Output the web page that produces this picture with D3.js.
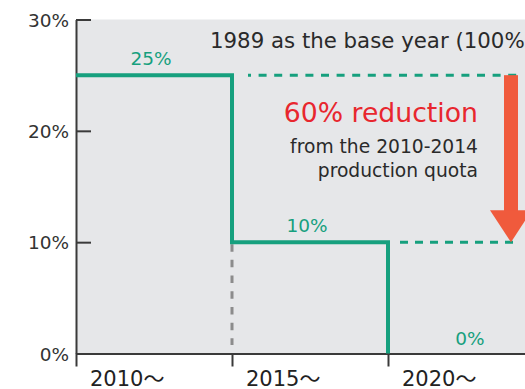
<!DOCTYPE html>
<html><head><meta charset="utf-8">
<script src="https://cdn.jsdelivr.net/npm/d3@7"></script>
<style>
html,body{margin:0;padding:0;background:#fff;overflow:hidden}
text{font-family:"DejaVu Sans","Noto Sans CJK JP",sans-serif}
</style></head>
<body><svg id="c" width="525" height="389"></svg>
<script>
const periods = ["2010〜","2015〜","2020〜"];
const startYears = [2010, 2015, 2020];
const quotaValues = [25, 10, 0];
const valueLabels = ["25%","10%","0%"];
const yTicks = [0, 10, 20, 30];
const baseNote = "1989 as the base year (100%)";
const reductionTitle = "60% reduction";
const reductionSub = ["from the 2010-2014", "production quota"];

const svg = d3.select("#c");
const x = d3.scaleLinear().domain([2010, 2025]).range([76, 544]);
const y = d3.scaleLinear().domain([0, 30]).range([353.5, 19.5]);
const green = "#16a07e", axisCol = "#3a3a3a";

svg.append("rect").attr("x", x(2010)).attr("y", y(30)).attr("width", x(2025)-x(2010)).attr("height", y(0)-y(30)).attr("fill", "#e6e7e9");

const ya = svg.append("g").attr("transform", `translate(${x(2010)},0)`)
  .call(d3.axisLeft(y).tickValues(yTicks).tickFormat(d => d + "%").tickSizeInner(-15).tickSizeOuter(0));
ya.select(".domain").attr("stroke", axisCol).attr("stroke-width", 2);
ya.selectAll(".tick line").attr("stroke", axisCol).attr("stroke-width", 2);
ya.selectAll(".tick text").attr("font-size", 18.5).attr("fill", "#333").attr("x", -7).attr("dy", "0.36em");

const xa = svg.append("g").attr("transform", `translate(0,${y(0)})`)
  .call(d3.axisBottom(x).tickValues(startYears).tickFormat("").tickSizeInner(13).tickSizeOuter(0));
xa.select(".domain").attr("stroke", axisCol).attr("stroke-width", 2);
xa.selectAll(".tick line").attr("stroke", axisCol).attr("stroke-width", 2);
svg.append("g").selectAll("text").data(periods).join("text")
  .attr("x", (d,i) => x(startYears[i]) + 14).attr("y", 386)
  .attr("font-size", 21).attr("fill", "#222").text(d => d);

svg.append("line").attr("x1", x(2015)).attr("x2", x(2015)).attr("y1", y(quotaValues[1]) + 2).attr("y2", 345)
  .attr("stroke", "#8c8c8c").attr("stroke-width", 3).attr("stroke-dasharray", "7.5,8.2");

svg.append("line").attr("x1", 248).attr("x2", 518).attr("y1", y(quotaValues[0])).attr("y2", y(quotaValues[0]))
  .attr("stroke", green).attr("stroke-width", 3).attr("stroke-dasharray", "8,7.6").attr("stroke-dashoffset", 5);
svg.append("line").attr("x1", 400).attr("x2", 514).attr("y1", y(quotaValues[1])).attr("y2", y(quotaValues[1]))
  .attr("stroke", green).attr("stroke-width", 3).attr("stroke-dasharray", "8,7");

const pts = [];
startYears.forEach((s,i) => {
  pts.push([x(s), y(quotaValues[i])]);
  if (i < startYears.length - 1) pts.push([x(startYears[i+1]), y(quotaValues[i])]);
});
svg.append("path").attr("d", d3.line()(pts)).attr("fill", "none").attr("stroke", green).attr("stroke-width", 4);

svg.append("g").selectAll("text").data(valueLabels).join("text")
  .attr("x", (d,i) => x(startYears[i] + 2.5) + (i === 2 ? 4 : -3))
  .attr("y", (d,i) => y(quotaValues[i]) - (i === 2 ? 9 : 10))
  .attr("text-anchor", "middle").attr("font-size", 18.5).attr("fill", green).text(d => d);

const ax = 511;
svg.append("rect").attr("x", ax - 7).attr("y", y(quotaValues[0])).attr("width", 14).attr("height", y(quotaValues[1]) - 32 - y(quotaValues[0]) + 1).attr("fill", "#f05a3c");
svg.append("path").attr("d", `M${ax-21},${y(quotaValues[1])-32} L${ax+21},${y(quotaValues[1])-32} L${ax},${y(quotaValues[1])} Z`).attr("fill", "#f05a3c");

svg.append("text").attr("x", 210).attr("y", 48).attr("font-size", 21.3).attr("fill", "#2a2a2a").text(baseNote);
svg.append("text").attr("x", 478).attr("y", 122).attr("text-anchor", "end").attr("font-size", 26.7).attr("fill", "#e8262e").text(reductionTitle);
svg.append("g").selectAll("text").data(reductionSub).join("text")
  .attr("x", 478).attr("y", (d,i) => 153 + i * 24).attr("text-anchor", "end").attr("font-size", 18.7).attr("fill", "#2a2a2a").text(d => d);
</script></body></html>
